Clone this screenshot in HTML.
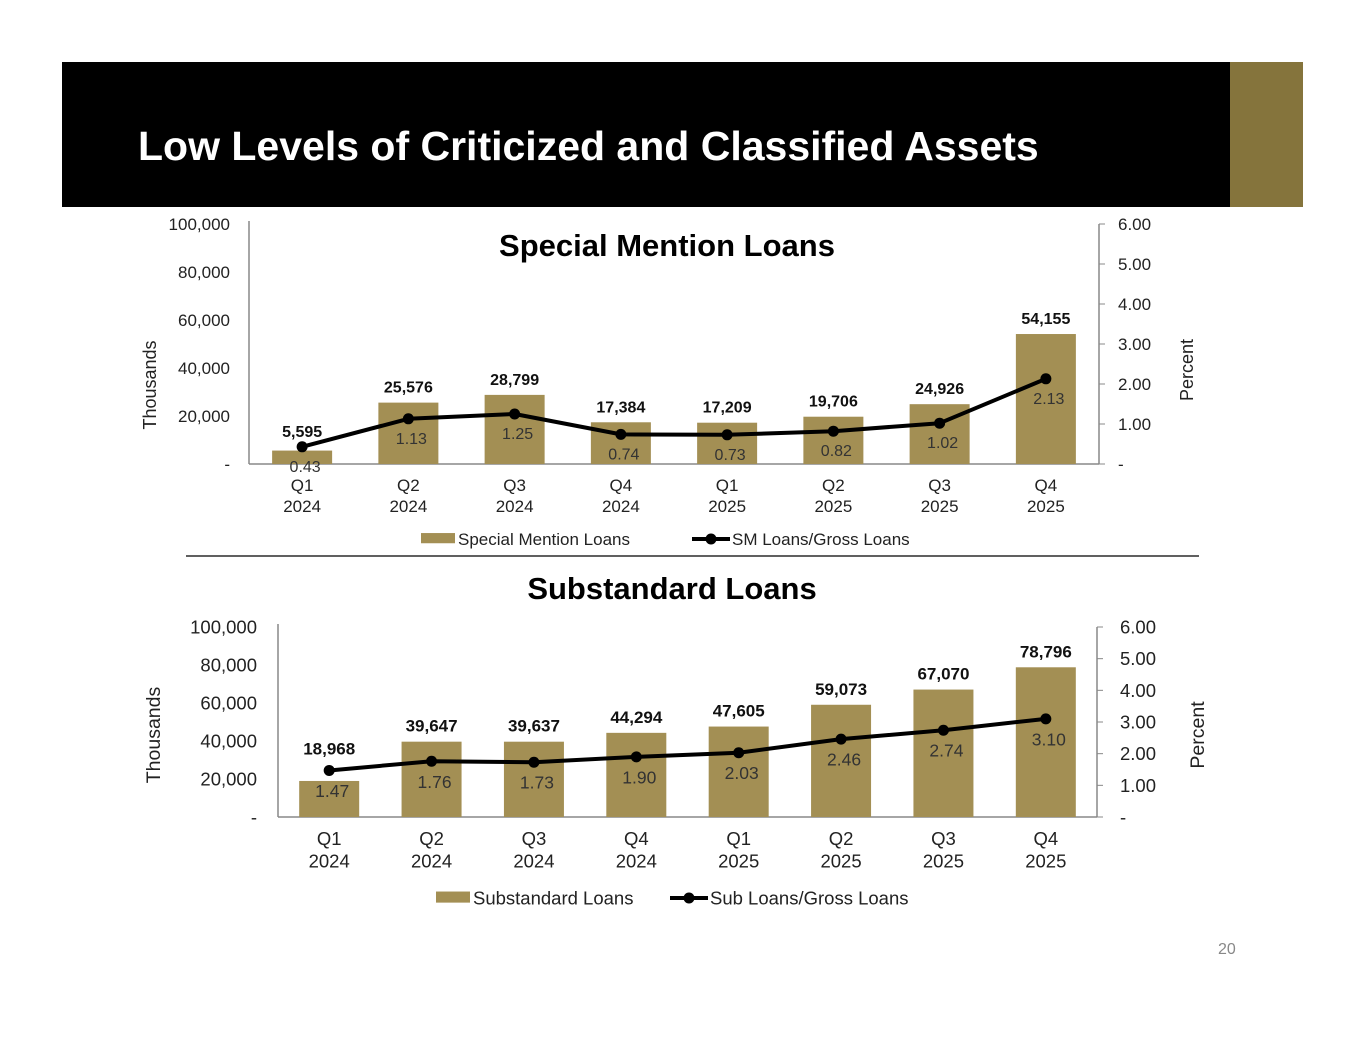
<!DOCTYPE html>
<html><head><meta charset="utf-8"><style>
body{margin:0;background:#fff;font-family:"Liberation Sans",Arial,sans-serif;}
#wrap{position:relative;width:1365px;height:1055px;overflow:hidden;}
svg text{font-family:"Liberation Sans",Arial,sans-serif;}
</style></head><body>
<div id="wrap">
<div style="position:absolute;left:62px;top:62px;width:1168px;height:145px;background:#000;"></div>
<div style="position:absolute;left:1230px;top:62px;width:73px;height:145px;background:#85743c;"></div>
<div style="position:absolute;left:138px;top:123px;color:#fff;font-weight:bold;font-size:41px;white-space:nowrap;">Low Levels of Criticized and Classified Assets</div>
<div style="position:absolute;left:1218px;top:941px;color:#888;font-size:16px;">20</div>
<svg id="svg" width="1365" height="1055" style="position:absolute;left:0;top:0"></svg>
</div>
<script>
const categories=["Q1|2024","Q2|2024","Q3|2024","Q4|2024","Q1|2025","Q2|2025","Q3|2025","Q4|2025"];
const smLoans=[5595,25576,28799,17384,17209,19706,24926,54155];
const smRatio=[0.43,1.13,1.25,0.74,0.73,0.82,1.02,2.13];
const subLoans=[18968,39647,39637,44294,47605,59073,67070,78796];
const subRatio=[1.47,1.76,1.73,1.90,2.03,2.46,2.74,3.10];
const leftTicks=[0,20000,40000,60000,80000,100000];
const rightTicks=[0,1,2,3,4,5,6];
const svg=document.getElementById('svg');
const NS='http://www.w3.org/2000/svg';
function mk(tag,attrs,txt){const e=document.createElementNS(NS,tag);for(const k in attrs)e.setAttribute(k,attrs[k]);if(txt!==undefined)e.textContent=txt;svg.appendChild(e);return e;}
function fmt(v){return v===0?'-':v.toLocaleString('en-US');}
function chart(cfg){
  const {x0,x1,y0,y1,bars,ratios,fs,rx,barName,lineName,legendY,legendX,title,titleY,titleX,tfs,yTitleX,pTitleX,axTitleY,pTitleY}=cfg;
  const n=categories.length,step=(x1-x0)/n;
  const cx=i=>x0+step*(i+0.5);
  const yL=v=>y0-(v/100000)*(y0-y1);
  const yR=v=>y0-(v/6)*(y0-y1);
  let e;
  e=mk('text',{x:titleX,y:titleY,'text-anchor':'middle','font-size':tfs,'font-weight':'bold',fill:'#000'},title);
  
  e=mk('line',{x1:x0,y1:y1-3,x2:x0,y2:y0,stroke:'#888','stroke-width':1.5});
  
  e=mk('line',{x1:x0,y1:y0,x2:x1,y2:y0,stroke:'#888','stroke-width':1.5});
  
  e=mk('line',{x1:x1,y1:y1,x2:x1,y2:y0,stroke:'#888','stroke-width':1.5});
  
  leftTicks.forEach(t=>{e=mk('text',{x:x0-(cfg.lpad),y:yL(t)+fs*0.35,'text-anchor':'end','font-size':fs,fill:'#222'},fmt(t));
    });
  rightTicks.forEach(t=>{const y=yR(t);
    e=mk('line',{x1:x1,y1:y,x2:x1+6,y2:y,stroke:'#888','stroke-width':1});
    
    e=mk('text',{x:rx,y:y+fs*0.35,'font-size':fs,fill:'#222'},t===0?'-':t.toFixed(2));
    });
  e=mk('text',{x:0,y:0,'font-size':fs+1,fill:'#222','text-anchor':'middle',transform:`translate(${yTitleX},${axTitleY}) rotate(-90)`},'Thousands');
  
  e=mk('text',{x:0,y:0,'font-size':fs+1,fill:'#222','text-anchor':'middle',transform:`translate(${pTitleX},${pTitleY}) rotate(-90)`},'Percent');
  
  bars.forEach((v,i)=>{const y=yL(v);
    e=mk('rect',{x:cx(i)-30,y:y,width:60,height:y0-y,fill:'#a38f54'});
    
    const ly=Math.min(y,yR(ratios[i])-cfg.lblGap)-10;
    e=mk('text',{x:cx(i),y:ly,'text-anchor':'middle','font-size':cfg.bfs,'font-weight':'bold',fill:'#111'},v.toLocaleString('en-US'));
    
    const [q,yr]=categories[i].split('|');
    e=mk('text',{x:cx(i),y:y0+cfg.catOff,'text-anchor':'middle','font-size':fs,fill:'#222'},q);
    
    e=mk('text',{x:cx(i),y:y0+cfg.catOff+fs+4,'text-anchor':'middle','font-size':fs,fill:'#222'},yr);
    });
  const pts=ratios.map((r,i)=>cx(i)+','+yR(r)).join(' ');
  e=mk('polyline',{points:pts,fill:'none',stroke:'#000','stroke-width':4,'stroke-linejoin':'round'});
  
  ratios.forEach((r,i)=>{const y=yR(r);
    e=mk('circle',{cx:cx(i),cy:y,r:5.5,fill:'#000'});
    
    e=mk('text',{x:cx(i)+3,y:y+fs+8,'text-anchor':'middle','font-size':fs-1,fill:'#333'},r.toFixed(2));
    });
  e=mk('rect',{x:legendX,y:legendY-fs*0.35,width:34,height:fs*0.6,fill:'#a38f54'});
  
  e=mk('text',{x:legendX+37,y:legendY+fs*0.35,'font-size':fs,fill:'#222'},barName);
  
  const lx=cfg.legend2X;
  e=mk('line',{x1:lx,y1:legendY,x2:lx+38,y2:legendY,stroke:'#000','stroke-width':4});
  
  e=mk('circle',{cx:lx+19,cy:legendY,r:5.5,fill:'#000'});
  
  e=mk('text',{x:lx+40,y:legendY+fs*0.35,'font-size':fs,fill:'#222'},lineName);
  
}
chart({x0:249,x1:1099,y0:464,y1:224,bars:smLoans,ratios:smRatio,fs:17,bfs:16,rx:1118,lpad:19,barName:'Special Mention Loans',lineName:'SM Loans/Gross Loans',legendY:539,legendX:421,legend2X:692,title:'Special Mention Loans',titleX:667,titleY:256,tfs:31,yTitleX:156,pTitleX:1193,axTitleY:385,pTitleY:370,catOff:27,lblGap:0});
chart({x0:278,x1:1097,y0:817,y1:627,bars:subLoans,ratios:subRatio,fs:18.5,bfs:17,rx:1120,lpad:21,barName:'Substandard Loans',lineName:'Sub Loans/Gross Loans',legendY:898,legendX:436,legend2X:670,title:'Substandard Loans',titleX:672,titleY:599,tfs:31,yTitleX:160,pTitleX:1204,axTitleY:735,pTitleY:735,catOff:28,lblGap:6});
const sep=mk('line',{x1:186,y1:556,x2:1199,y2:556,stroke:'#000','stroke-width':1.2});


</script>
</body></html>
